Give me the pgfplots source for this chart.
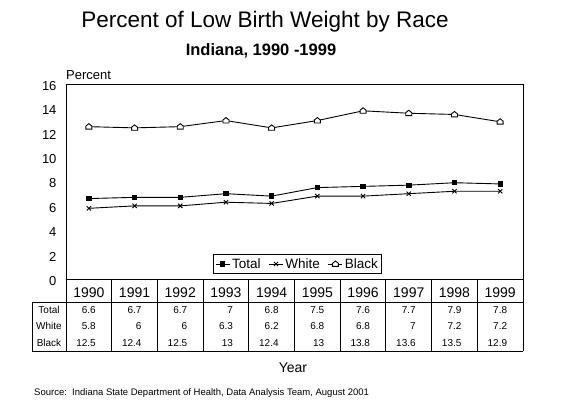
\documentclass[border=0pt]{standalone}
\usepackage{pgfplots}
\pgfplotsset{compat=1.18}
\usepackage{fontspec}
\setmainfont{Liberation Sans}
\pgfdeclareplotmark{house}{%
  \pgfpathmoveto{\pgfqpoint{-\pgfplotmarksize}{-0.8\pgfplotmarksize}}%
  \pgfpathlineto{\pgfqpoint{\pgfplotmarksize}{-0.8\pgfplotmarksize}}%
  \pgfpathlineto{\pgfqpoint{\pgfplotmarksize}{0.2\pgfplotmarksize}}%
  \pgfpathlineto{\pgfqpoint{0pt}{\pgfplotmarksize}}%
  \pgfpathlineto{\pgfqpoint{-\pgfplotmarksize}{0.2\pgfplotmarksize}}%
  \pgfpathclose
  \pgfusepathqfillstroke}
\begin{document}
\begin{tikzpicture}[x=1pt,y=1pt]
\fill[white] (0,0) rectangle (562,400);
\path[use as bounding box] (0,0) rectangle (562,400);
\node[font=\fontsize{22.5}{27}\selectfont] at (265,378) {Percent of Low Birth Weight by Race};
\node[font=\fontsize{16.5}{20}\selectfont\bfseries] at (261,349) {Indiana, 1990 -1999};
\node[font=\fontsize{13}{15}\selectfont, anchor=west, inner sep=0pt] at (66,325) {Percent};
\begin{axis}[
  at={(66pt,121pt)}, anchor=south west,
  width=457pt, height=195pt, scale only axis,
  xmin=0, xmax=10, ymin=0, ymax=16,
  xtick=\empty,
  ytick={0,2,...,16},
  major tick length=0pt,
  axis line style={line width=0.9pt},
  /pgf/number format/assume math mode=true,
  yticklabel style={font=\fontsize{13}{15}\selectfont, xshift=-6pt, yshift=-2pt},
  clip=false,
  legend style={at={(0.5066,0.077)}, anchor=center, draw=black, line width=0.8pt,
    font=\fontsize{13.5}{16}\selectfont, inner sep=1.5pt, row sep=0pt,
    /tikz/every even column/.append style={column sep=6pt}},
  legend columns=3,
  legend image code/.code={\draw[#1] (0pt,0pt) -- (14pt,0pt); \draw[#1, only marks] plot coordinates {(7pt,0pt)};},
  every axis plot/.append style={line width=0.9pt, black},
]
\addplot[mark=square*, mark size=2.2pt, mark options={solid}] coordinates {
 (0.5,6.6) (1.5,6.7) (2.5,6.7) (3.5,7) (4.5,6.8) (5.5,7.5) (6.5,7.6) (7.5,7.7) (8.5,7.9) (9.5,7.8)};
\addlegendentry{Total}
\addplot[mark=x, mark size=3pt, mark options={solid}] coordinates {
 (0.5,5.8) (1.5,6) (2.5,6) (3.5,6.3) (4.5,6.2) (5.5,6.8) (6.5,6.8) (7.5,7) (8.5,7.2) (9.5,7.2)};
\addlegendentry{White}
\addplot[mark=house, mark size=3pt, mark options={solid, fill=white}] coordinates {
 (0.5,12.5) (1.5,12.4) (2.5,12.5) (3.5,13) (4.5,12.4) (5.5,13) (6.5,13.8) (7.5,13.6) (8.5,13.5) (9.5,12.9)};
\addlegendentry{Black}
\end{axis}
% data table grid
\draw[line width=0.9pt] (32,98) -- (523,98);
\draw[line width=0.9pt] (32,49) -- (523,49);
\draw[line width=0.9pt] (32,98) -- (32,49);
\foreach \i in {0,...,10} {\draw[line width=0.9pt] ({66+45.7*\i},121) -- ({66+45.7*\i},49);}
\foreach \y [count=\i from 0] in {1990,1991,1992,1993,1994,1995,1996,1997,1998,1999}
  {\node[font=\fontsize{14}{16}\selectfont, inner sep=0pt] at ({66+45.7*\i+22.85},107) {\y};}
\node[font=\fontsize{10}{12}\selectfont, inner sep=0pt] at (49,90) {Total};
\node[font=\fontsize{10}{12}\selectfont, inner sep=0pt] at (49,74) {White};
\node[font=\fontsize{10}{12}\selectfont, inner sep=0pt] at (49,57) {Black};
\foreach \a/\b/\c [count=\i from 0] in {6.6/5.8/12.5,6.7/6/12.4,6.7/6/12.5,7/6.3/13,6.8/6.2/12.4,7.5/6.8/13,7.6/6.8/13.8,7.7/7/13.6,7.9/7.2/13.5,7.8/7.2/12.9}{
  \node[font=\fontsize{10}{12}\selectfont, inner sep=0pt, anchor=east] at ({66+45.7*\i+30},90) {\a};
  \node[font=\fontsize{10}{12}\selectfont, inner sep=0pt, anchor=east] at ({66+45.7*\i+30},74) {\b};
  \node[font=\fontsize{10}{12}\selectfont, inner sep=0pt, anchor=east] at ({66+45.7*\i+30},57) {\c};
}
\node[font=\fontsize{14}{17}\selectfont] at (293,32) {Year};
\node[font=\fontsize{9.5}{11}\selectfont, anchor=west, inner sep=0pt] at (34,7) {Source:~~Indiana State Department of Health, Data Analysis Team, August 2001};
\end{tikzpicture}
\end{document}
